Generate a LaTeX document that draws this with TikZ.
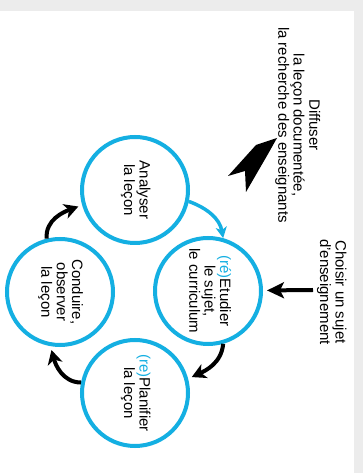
\documentclass[tikz,border=0pt]{standalone}
\usepackage{fontspec}
\setmainfont{Liberation Sans}
\usetikzlibrary{arrows.meta}
\definecolor{lsblue}{RGB}{20,175,226}
\definecolor{pagegray}{RGB}{236,236,236}
% text turned a quarter turn clockwise, lines centred
\newcommand{\turned}[1]{\rotatebox{-90}{\begin{tabular}{@{}c@{}}#1\end{tabular}}}
\newcommand{\re}[1]{\textcolor{lsblue}{#1}}
\begin{document}
\begin{tikzpicture}[x=1pt,y=1pt,
  txt/.style={font=\fontsize{15}{15}\selectfont},
  stage/.style={circle, draw=lsblue, line width=4pt, minimum size=106pt,
    inner sep=0pt, txt},
  cyclearrow/.style={line width=4pt, -{Stealth[length=14pt,width=15pt,inset=4pt]},
    shorten >=4pt},
  note/.style={txt, inner sep=0pt},
]
% page with its grey margin
\fill[pagegray] (0,0) rectangle (363,473);
\fill[white] (0,0) rectangle (354,462);
\useasboundingbox (0,0) rectangle (363,473);

% the four stages of the cycle
\node[stage] (ana) at (135,283) {\turned{Analyser\\la leçon}};
\node[stage] (etu) at (208,182) {\turned{\re{(ré)}Etudier\\le sujet,\\le curriculum}};
\node[stage] (pla) at (135,80)  {\turned{\re{(re)}Planifier\\la leçon}};
\node[stage] (con) at (60,181)  {\turned{Conduire,\\observer\\la leçon}};

% cycle connectors
\draw[lsblue, line width=3.5pt, -{Stealth[length=11pt,width=11pt,inset=3pt]}]
  (ana.-12) to[out=-20,in=100] (etu.74);
\draw[cyclearrow] (etu.-74) to[out=-95,in=25] (pla.15);
\draw[cyclearrow] (pla.169) to[out=180,in=-75] (con.-100);
\draw[cyclearrow] (con.104) to[out=95,in=200] (ana.196);

% entry: choosing a subject
\node[note] (choisir) at (331,181) {\turned{Choisir un sujet\\d'enseignement}};
\coordinate (chin) at (313,183);
\draw[line width=4pt, -{Stealth[length=17pt,width=16pt,inset=4pt]}, shorten >=4pt]
  (chin) -- (etu);

% exit: spreading the results, a broad solid arrow
\node[note] (diffuser) at (297,348)
  {\turned{Diffuser\\la leçon documentée,\\la recherche des enseignants}};
\coordinate (dtip) at (277,335);
\coordinate (dl)   at (256,328);
\coordinate (db1)  at (228,297);
\coordinate (dn)   at (245,302);
\coordinate (db2)  at (246,281);
\coordinate (dr)   at (268,319);
\fill[black] (dtip) -- (dl) -- (db1) -- (dn) -- (db2) -- (dr) -- cycle;
\end{tikzpicture}
\end{document}
